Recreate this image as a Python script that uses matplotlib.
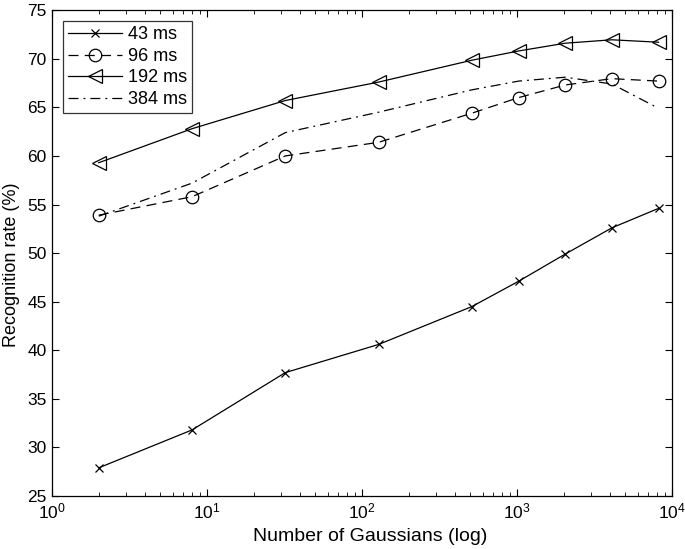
import numpy as np
import matplotlib
matplotlib.use('Agg')
from matplotlib import pyplot as plt

plt.rcParams['font.family'] = ['Liberation Sans', 'DejaVu Sans']

# number of gaussians
n_gauss = [2, 8, 32, 128, 512, 1024, 2048, 4096, 8192]

# recognition rates (%)
rate_43 = [27.9, 31.8, 37.7, 40.6, 44.5, 47.1, 49.9, 52.6, 54.6]
rate_96 = [53.9, 55.8, 60.0, 61.4, 64.4, 66.0, 67.3, 67.95, 67.7]
rate_192 = [59.3, 62.8, 65.7, 67.6, 69.85, 70.8, 71.6, 71.95, 71.7]
rate_384 = [53.8, 57.2, 62.4, 64.5, 66.8, 67.7, 68.1, 67.4, 64.9]

fig = plt.figure(figsize=(6.85, 5.49), dpi=100)
ax = fig.add_axes([0.076, 0.0965, 0.905, 0.885])

lw = 0.9
ax.plot(n_gauss, rate_43, 'k-', marker='x', ms=6, mew=0.9, lw=lw, label='43 ms')
ax.plot(n_gauss, rate_96, 'k--', marker='o', ms=9, mfc='none', mew=0.9, lw=lw, dashes=(8, 5), label='96 ms')
ax.plot(n_gauss, rate_192, 'k-', marker='<', ms=10, mfc='none', mew=0.9, lw=lw, label='192 ms')
ax.plot(n_gauss, rate_384, 'k-.', lw=lw, dashes=(8, 4, 1.5, 4), label='384 ms')

ax.set_xscale('log')
ax.set_xlim(1, 1e4)
ax.set_ylim(25, 75)
ax.set_yticks(np.arange(25, 76, 5))

ax.tick_params(which='both', direction='in', top=True, right=True, labelsize=12.5)
ax.tick_params(which='major', length=5, pad=4)
ax.tick_params(which='minor', length=3)
for s in ax.spines.values():
    s.set_linewidth(0.9)

ax.set_xlabel('Number of Gaussians (log)', fontsize=14)
# narrower face so the rotated label keeps its length but gets taller letters
ax.set_ylabel('Recognition rate (%)', fontsize=13,
              family=['Liberation Sans Narrow', 'Liberation Sans'])
ax.xaxis.set_label_coords(0.513, -0.066)
ax.yaxis.set_label_coords(-0.052, 0.475)

leg = ax.legend(loc='upper left', fontsize=13, fancybox=False, edgecolor='k',
                handlelength=3.0, borderaxespad=0.6, labelspacing=0.25,
                handletextpad=0.3, borderpad=0.3)
leg.get_frame().set_linewidth(0.9)

fig.savefig('out.png', dpi=100)
